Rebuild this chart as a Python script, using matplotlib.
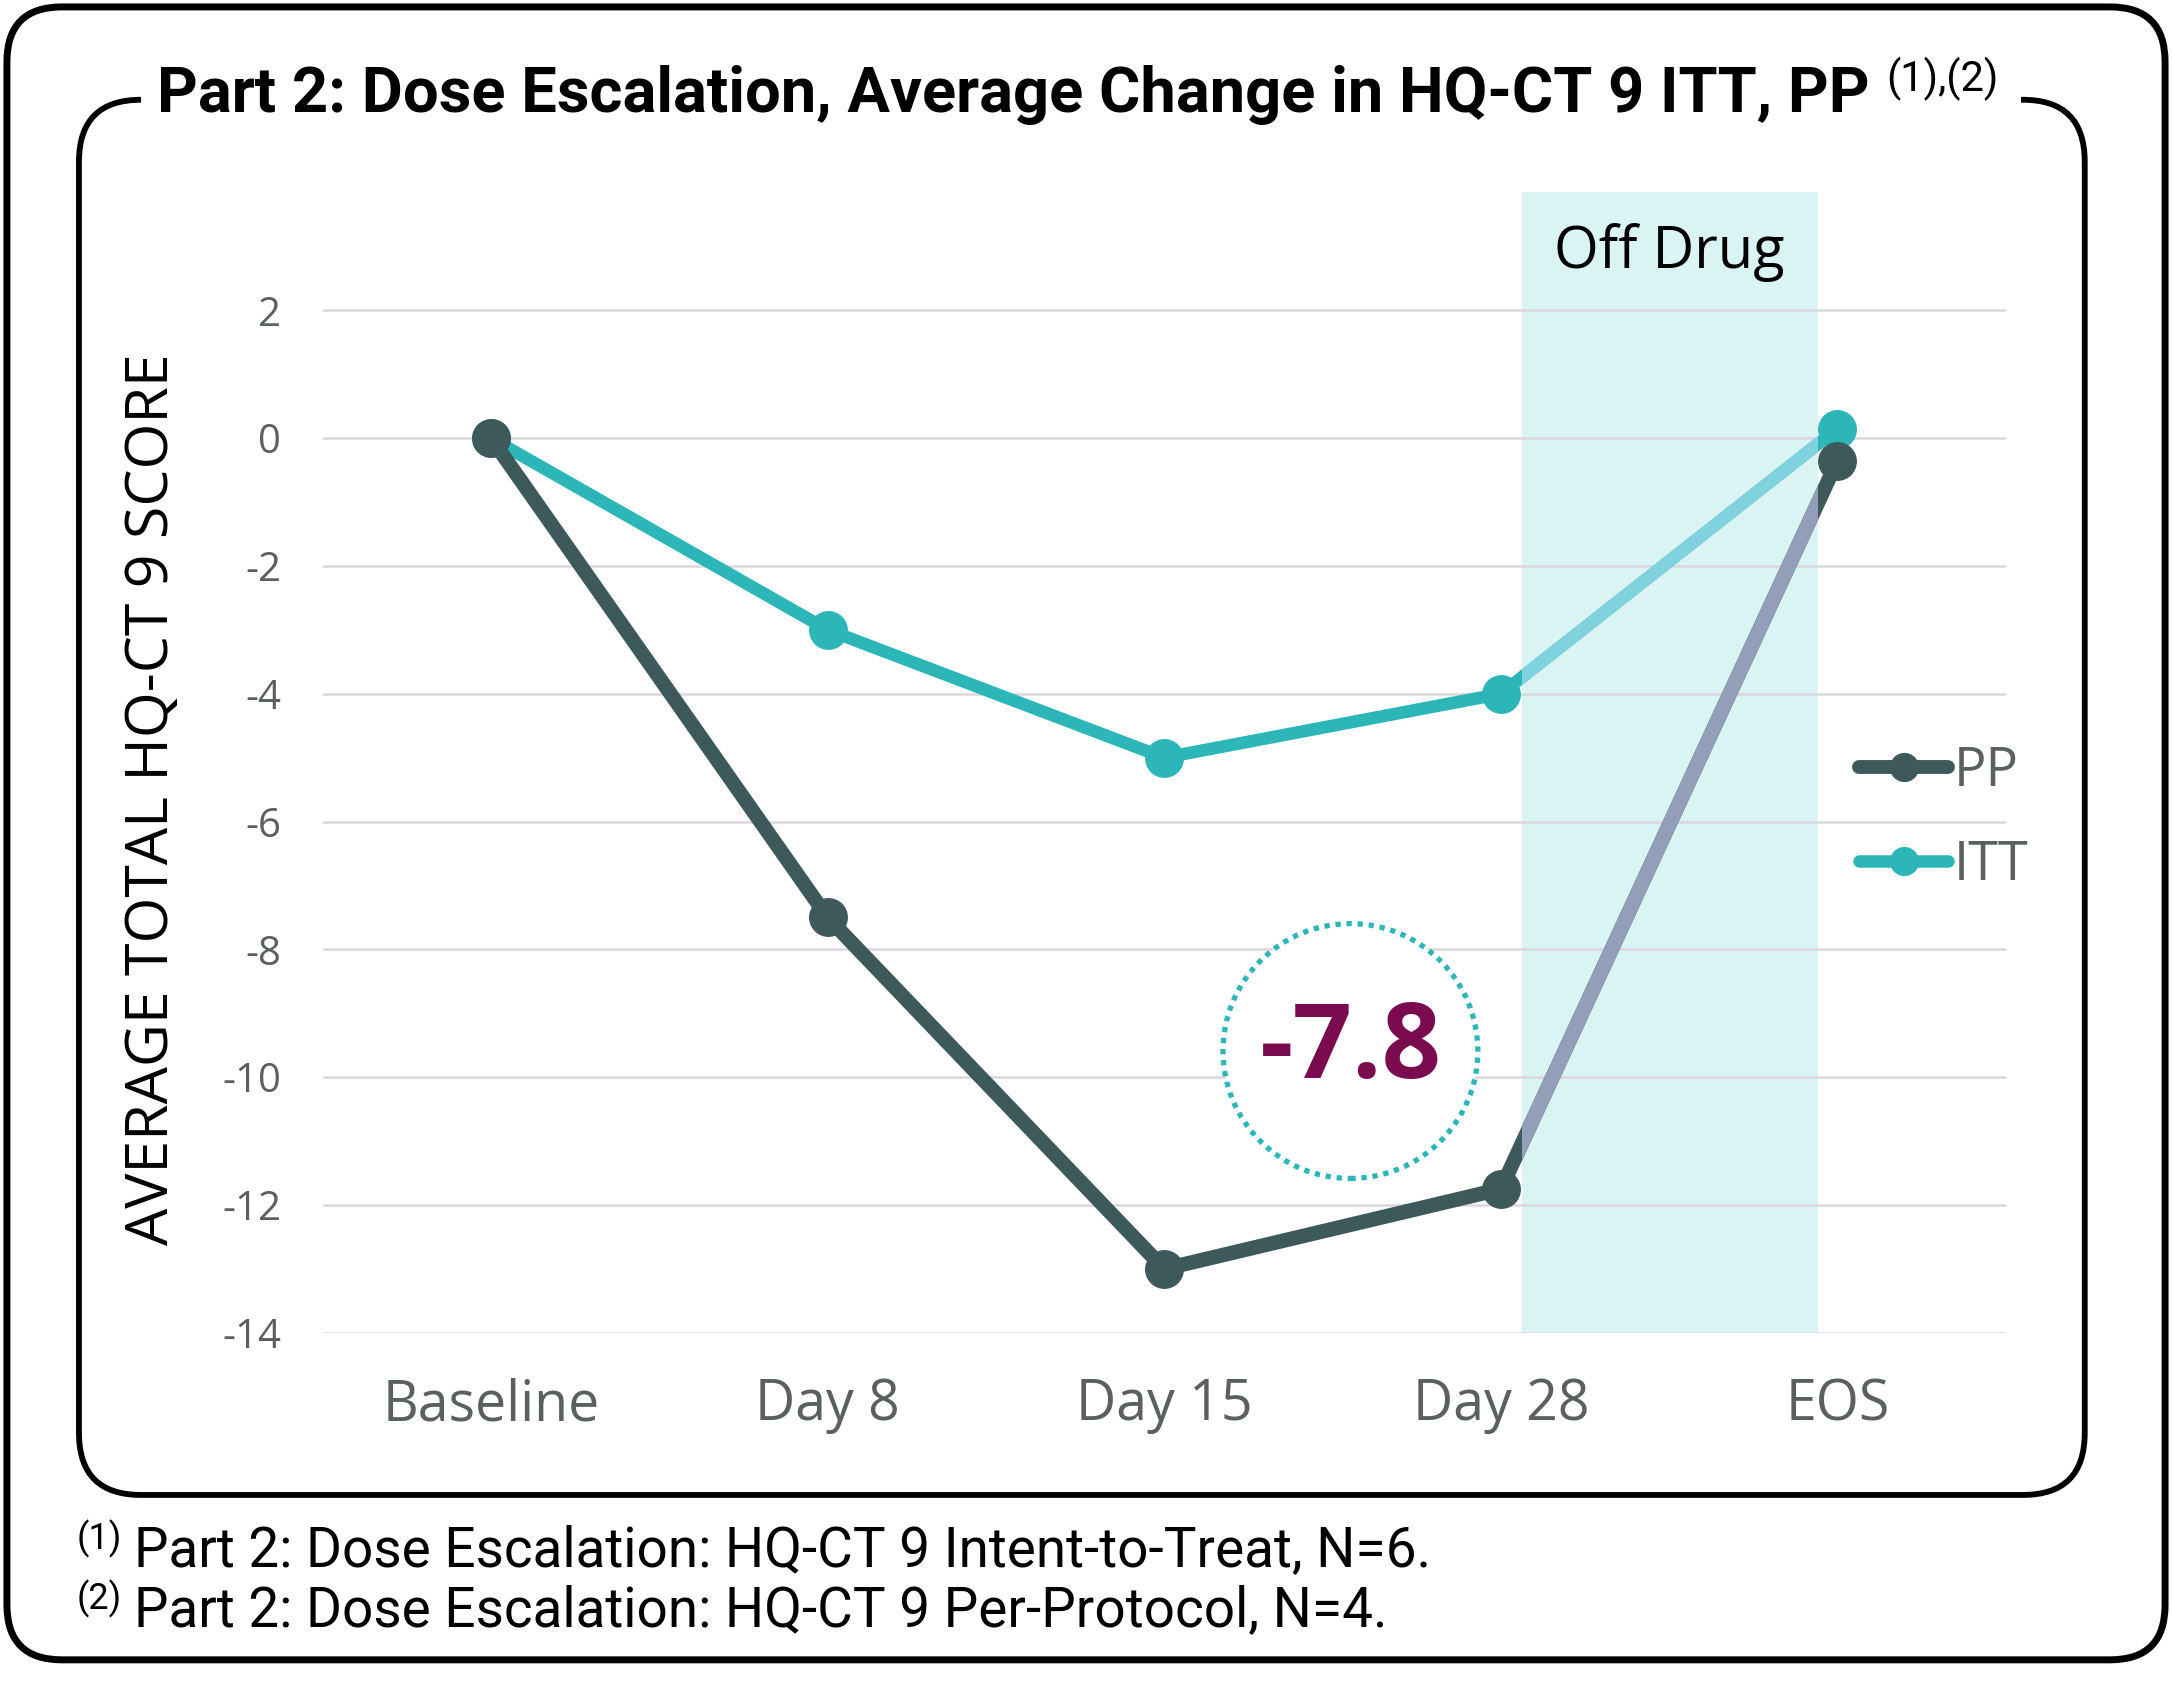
import matplotlib
matplotlib.use("Agg")
import matplotlib.pyplot as plt
from matplotlib.patches import FancyBboxPatch, Rectangle, Circle
from matplotlib.lines import Line2D

plt.rcParams["axes.unicode_minus"] = False

# ---------------- data ----------------
categories = ["Baseline", "Day 8", "Day 15", "Day 28", "EOS"]
pp_values = [0.0, -7.5, -13.0, -11.75, -0.35]
itt_values = [0.0, -3.0, -5.0, -4.0, 0.15]
y_ticks = [2, 0, -2, -4, -6, -8, -10, -12, -14]
callout_value = "-7.8"
title_text = "Part 2: Dose Escalation, Average Change in HQ-CT 9 ITT, PP"
title_sup = "(1),(2)"
foot_sups = ["(1)", "(2)"]
foot_texts = ["Part 2: Dose Escalation: HQ-CT 9 Intent-to-Treat, N=6.",
              "Part 2: Dose Escalation: HQ-CT 9 Per-Protocol, N=4."]
ylabel_text = "AVERAGE TOTAL HQ-CT 9 SCORE"
shade_label = "Off Drug"

# ---------------- style ----------------
PP_C = "#3e5959"
ITT_C = "#2db6b8"
PP_OFF = "#939fb9"
ITT_OFF = "#80d3de"
SHADE = "#daf3f3"
GRID = "#dcd6dc"
TICK_C = "#59605f"
CALL_C = "#7b0b4f"
SANS = ["Open Sans", "DejaVu Sans"]
ROBO = ["Roboto", "DejaVu Sans"]

W_IN, H_IN, DPI = 21.72, 16.82, 100
DW, DH = 1568.0, 1214.0  # reference layout units


def fx(x):
    return x / DW


def fy(y):
    return 1 - y / DH


def inx(x):
    return x / DW * W_IN


def iny(y):
    return (1 - y / DH) * H_IN


fig = plt.figure(figsize=(W_IN, H_IN), dpi=DPI)
fig.patch.set_facecolor("white")

# outer and inner rounded frames
outer = FancyBboxPatch((inx(5), iny(1198)), inx(1563) - inx(5), iny(5) - iny(1198),
                       boxstyle="round,pad=0,rounding_size=0.55",
                       transform=fig.dpi_scale_trans, fc="none", ec="black", lw=5)
inner = FancyBboxPatch((inx(57), iny(1079)), inx(1505) - inx(57), iny(72) - iny(1079),
                       boxstyle="round,pad=0,rounding_size=0.62",
                       transform=fig.dpi_scale_trans, fc="none", ec="black", lw=4.2)
fig.patches.extend([outer, inner])
gap = Rectangle((fx(102), fy(90)), fx(1459) - fx(102), fy(55) - fy(90),
                transform=fig.transFigure, fc="white", ec="none", zorder=2)
fig.patches.append(gap)

# axes
y_top = 3.85
ax_bottom = fy(962)
ax_top = fy(224 - (y_top - 2) * 46.125)
ax = fig.add_axes([fx(233), ax_bottom, fx(1448) - fx(233), ax_top - ax_bottom])
ax.set_facecolor("none")
x = list(range(len(categories)))
ax.set_xlim(-0.5, len(categories) - 0.5)
ax.set_ylim(min(y_ticks), y_top)
for s in ax.spines.values():
    s.set_visible(False)
ax.set_yticks(y_ticks)
ax.set_xticks(x)
ax.set_xticklabels(categories)
ax.tick_params(axis="both", length=0)
ax.tick_params(axis="y", pad=30, labelsize=29, labelcolor=TICK_C)
ax.tick_params(axis="x", pad=32, labelsize=40, labelcolor=TICK_C)
for lab in ax.get_xticklabels() + ax.get_yticklabels():
    lab.set_family(SANS)
ax.grid(axis="y", color=GRID, lw=1.8, zorder=0)
ax.set_axisbelow(True)

# off-drug shading
span = ax.axvspan(3.064, 3.942, color=SHADE, zorder=0.5, lw=0)
ax.text(3.5, 2.9, shade_label, ha="center", va="center", fontsize=41.5,
        family=SANS, color="black", zorder=6)

# lines
ax.plot(x, itt_values, color=ITT_C, lw=9, zorder=3, solid_capstyle="round")
ax.plot(x, pp_values, color=PP_C, lw=10.5, zorder=3.2, solid_capstyle="round")
l1, = ax.plot(x, itt_values, color=ITT_OFF, lw=9, zorder=3.5)
l1.set_clip_path(span)
l2, = ax.plot(x, pp_values, color=PP_OFF, lw=10.5, zorder=3.6)
l2.set_clip_path(span)
ax.plot(x, itt_values, ls="none", marker="o", ms=27, color=ITT_C, mec=ITT_C, zorder=4)
ax.plot(x, pp_values, ls="none", marker="o", ms=27, color=PP_C, mec=PP_C, zorder=4.2)

# legend
handles = [Line2D([0], [0], color=PP_C, lw=10, marker="o", ms=20, solid_capstyle="round"),
           Line2D([0], [0], color=ITT_C, lw=9, marker="o", ms=20, solid_capstyle="round")]
leg = ax.legend(handles, ["PP", "ITT"], loc="center left",
                bbox_to_anchor=((1342 - 233) / (1448 - 233), (962 - 591) / (962 - (224 - (y_top - 2) * 46.125))),
                frameon=False, borderpad=0, borderaxespad=0, handlelength=1.65,
                handletextpad=0.1, labelspacing=0.72,
                prop={"family": SANS, "size": 39}, numpoints=1)
for t in leg.get_texts():
    t.set_color(TICK_C)

# callout
cx, cy = 2.553, -9.59
ax.text(cx, cy, callout_value, ha="center", va="center", fontsize=75,
        fontweight="bold", family=SANS, color=CALL_C, zorder=7)
fig.canvas.draw()
px, py = ax.transData.transform((cx, cy))
circ = Circle((px / DPI, py / DPI), radius=inx(92), transform=fig.dpi_scale_trans,
              fc="white", ec=ITT_C, lw=3.8, ls=(0, (1.0, 1.1)), zorder=2)
ax.add_patch(circ)

# y label
fig.text(fx(110), fy(577), ylabel_text, rotation=90, ha="center", va="center",
         fontsize=42.5, family=SANS, color="black")

# title
tt = fig.text(fx(113), fy(81), title_text, ha="left", va="baseline", fontsize=45.5,
              fontweight="bold", family=ROBO, color="black", zorder=5)
fig.canvas.draw()
r = fig.canvas.get_renderer()
bb = tt.get_window_extent(r)
fig.text(bb.x1 / (W_IN * DPI) + 0.008, fy(66), title_sup, ha="left", va="baseline",
         fontsize=30, family=ROBO, color="black", zorder=5)

# footnotes
for i, (sup, txt) in enumerate(zip(foot_sups, foot_texts)):
    base = 1130 + i * 43.5
    fig.text(fx(55), fy(base - 12), sup, ha="left", va="baseline", fontsize=26,
             family=ROBO, color="black")
    fig.text(fx(97), fy(base), txt, ha="left", va="baseline", fontsize=39.5,
             family=ROBO, color="black")

fig.savefig("out.png", dpi=DPI, facecolor="white")
